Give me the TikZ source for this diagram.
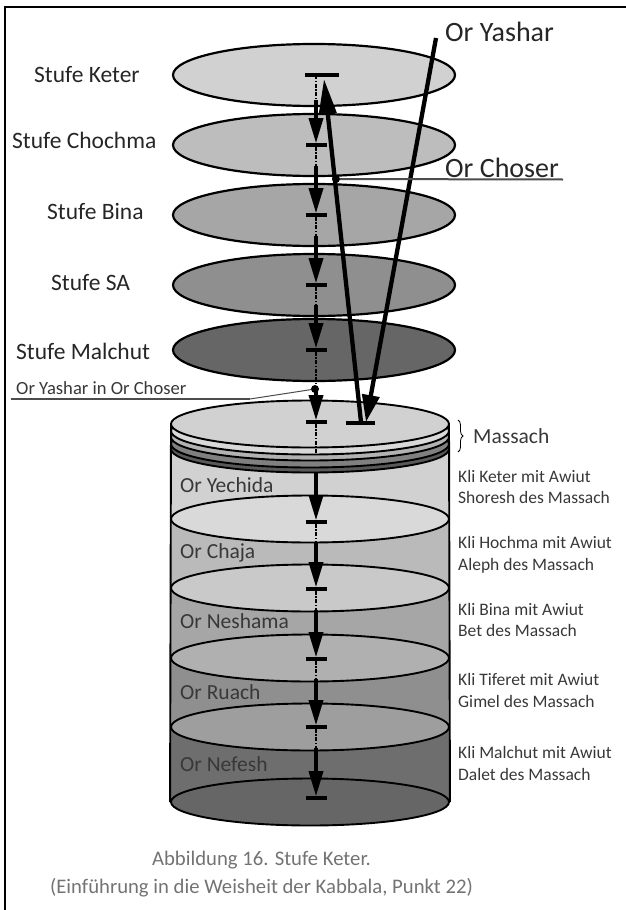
\documentclass[tikz,border=0pt]{standalone}
\usepackage{fontspec}
\setmainfont{Carlito}
\usetikzlibrary{arrows.meta,calc,shapes.geometric,decorations.pathreplacing}
\definecolor{labelgray}{gray}{0.22}
\definecolor{captiongray}{gray}{0.45}
\tikzset{
  disk/.style={ellipse, draw, line width=2.2pt, inner sep=0pt, minimum width=282pt, minimum height=62pt},
  layer/.style={ellipse, draw, line width=1.9pt, inner sep=0pt, minimum width=278pt, minimum height=47pt},
  axisbar/.style={rectangle, fill=black, inner sep=0pt, minimum width=21pt, minimum height=3.2pt},
  axisdash/.style={line width=1.5pt, dash pattern=on 4pt off 1.5pt on 1.5pt off 1.5pt},
  axisline/.style={line width=3.4pt, -{Triangle[length=25pt,width=14pt]}},
  rayline/.style={line width=4.3pt},
  leader/.style={draw=black!70},
  stufe/.style={anchor=base west, inner sep=0pt, font=\fontsize{23.5}{28}\selectfont, text=black!85},
  orlabel/.style={anchor=base west, inner sep=0pt, font=\fontsize{21.5}{26}\selectfont, text=labelgray},
  klilabel/.style={anchor=base west, inner sep=0pt, font=\fontsize{17.5}{21}\selectfont, text=labelgray},
  caption/.style={anchor=base, inner sep=0pt, font=\fontsize{20.7}{25}\selectfont, text=captiongray}
}

\begin{document}
\begin{tikzpicture}[x=1pt,y=-1pt]
\useasboundingbox (0,0) rectangle (626,910);

% Frame
\coordinate (frameCorner) at (5,7);
\coordinate (frameRight) at (626,7);
\coordinate (frameBottom) at (5,910);
\draw[line width=2.6pt] (frameRight) -- (frameCorner) -- (frameBottom);

% Bands of the cylinder
\foreach \top/\bottom/\shade in {424/519/18, 519/588/27, 588/658/35, 658/727/44, 727/802/57} {
    \fill[black!\shade] (171,\top) rectangle (449,\bottom);
}

% Ellipses between the bands
\foreach \name/\ypos/\shade in {yechida/519/15, chaja/588/21, neshama/658/31, ruach/727/38, nefesh/802/60} {
    \node[layer, fill=black!\shade] (\name) at (310,\ypos) {};
}
\coordinate (sideLeftTop) at (171,424);
\coordinate (sideRightTop) at (449,424);
\draw[line width=1.9pt] (sideLeftTop) -- (nefesh.west);
\draw[line width=1.9pt] (sideRightTop) -- (nefesh.east);

% Massach rings, from the lowest one up
\foreach \name/\ypos/\shade in {ringd/449/65, ringc/444/50, ringb/437/30, ringa/431/15, massach/424/18} {
    \node[layer, fill=black!\shade] (\name) at (310,\ypos) {};
}

% Stufot
\foreach \name/\ypos/\shade in {keter/75/18, chochma/145/26, bina/215/35, sa/285/44, malchut/350/60} {
    \node[disk, fill=black!\shade] (\name) at (314,\ypos) {};
}

% Bars on the axis
\foreach \name/\ypos in {barb/145, barc/215, bard/285, bare/350, barf/422, barg/522, barh/589, bari/659, barj/727, bark/798} {
    \node[axisbar] (\name) at (316,\ypos) {};
}
\node[axisbar, minimum width=34pt] (bara) at (322,75) {};
\node[axisbar, minimum width=29pt] (barRay) at (360,423) {};
\coordinate (axisTop) at (316,75);

% Axis, dashed part and then the arrow
\foreach \source/\dest/\dashend/\solid in {axisTop/barb/0.36/0.36, barb/barc/0.3/0.3, barc/bard/0.3/0.3, bard/bare/0.3/0.3, bare/barf/0.5/0.5, barf/barg/0.31/0.51, barg/barh/0.3/0.3, barh/bari/0.3/0.3, bari/barj/0.3/0.3, barj/bark/0.3/0.3} {
    \draw[axisdash] (\source) -- ($(\source)!\dashend!(\dest)$);
    \draw[axisline] ($(\source)!\solid!(\dest)$) -- (\dest.north);
}

% Rays
\coordinate (rayUpStart) at (361,422);
\coordinate (rayUpTip) at (324,79);
\coordinate (rayDownStart) at (436,38);
\coordinate (rayDownTip) at (366,422);
\draw[rayline, -{Triangle[length=35pt,width=17pt]}] (rayUpStart) -- (rayUpTip);
\draw[rayline, -{Triangle[length=27pt,width=17pt]}] (rayDownStart) -- (rayDownTip);

% Leaders
\node[circle, fill=black, inner sep=0pt, minimum size=8pt] (choserDot) at (336,179) {};
\node[circle, fill=black, inner sep=0pt, minimum size=8pt] (yasharDot) at (315,389) {};
\coordinate (choserEnd) at (563,179.5);
\coordinate (yasharBend) at (250,399);
\coordinate (yasharEnd) at (11,399);
\draw[leader, line width=2pt] (choserDot) -- (choserEnd);
\draw[leader, line width=1pt] (yasharDot) -- (yasharBend);
\draw[leader, line width=1.5pt] (yasharBend) -- (yasharEnd);

% Brace of the Massach
\coordinate (braceTop) at (458,420);
\coordinate (braceBottom) at (458,452);
\draw[line width=0.8pt, decorate, decoration={brace, amplitude=5pt}] (braceTop) -- (braceBottom);

% Labels
\foreach \name/\xpos/\ypos/\txt in {stufea/34/82/Stufe Keter, stufeb/12/148/Stufe Chochma, stufec/47/219/Stufe Bina, stufed/51/290/Stufe SA, stufee/16/359/Stufe Malchut} {
    \node[stufe] (\name) at (\xpos,\ypos) {\txt};
}
\foreach \name/\ypos/\txt in {ora/492/Or Yechida, orb/558/Or Chaja, orc/628/Or Neshama, ord/699/Or Ruach, ore/771/Or Nefesh} {
    \node[orlabel] (\name) at (180,\ypos) {\txt};
}
\foreach \name/\ypos/\txt in {klia/482/Kli Keter mit Awiut, klib/503/Shoresh des Massach, klic/548/Kli Hochma mit Awiut, klid/570/Aleph des Massach, klie/615/Kli Bina mit Awiut, klif/636/Bet des Massach, klig/685/Kli Tiferet mit Awiut, klih/707/Gimel des Massach, klii/758/Kli Malchut mit Awiut, klij/780/Dalet des Massach} {
    \node[klilabel] (\name) at (458,\ypos) {\txt};
}
\node[stufe, font=\fontsize{28}{32}\selectfont] (orYashar) at (445,41) {Or Yashar};
\node[stufe, font=\fontsize{28}{32}\selectfont] (orChoser) at (445,177) {Or Choser};
\node[klilabel, font=\fontsize{18.6}{22}\selectfont] (orInOr) at (16,394) {Or Yashar in Or Choser};
\node[orlabel] (massachLabel) at (473,443) {Massach};
\node[caption] (captiona) at (261.5,865) {Abbildung 16. Stufe Keter.};
\node[caption] (captionb) at (261.5,893) {(Einführung in die Weisheit der Kabbala, Punkt 22)};

\end{tikzpicture}
\end{document}
